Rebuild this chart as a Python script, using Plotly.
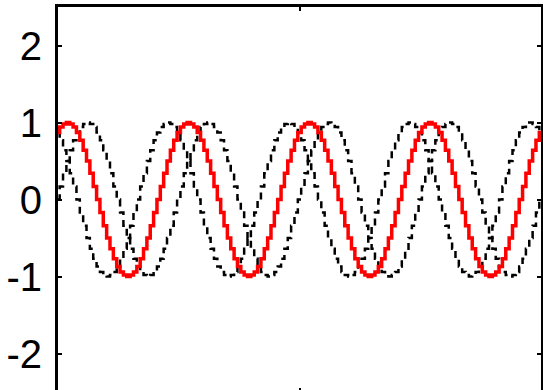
import plotly.graph_objects as go

# sample index (36 samples per cycle, 4 cycles)
sample = list(range(145))

red_wave = [
    0.87, 0.94, 0.98, 1, 0.98, 0.94, 0.87, 0.77, 0.64, 0.5, 0.34, 0.17, 0, -0.17, -0.34, -0.5, -0.64, -0.77, -0.87, -0.94, -0.98, -1, -0.98, -0.94, -0.87, -0.77, -0.64, -0.5, -0.34, -0.17, 0, 0.17, 0.34, 0.5, 0.64, 0.77,
    0.87, 0.94, 0.98, 1, 0.98, 0.94, 0.87, 0.77, 0.64, 0.5, 0.34, 0.17, 0, -0.17, -0.34, -0.5, -0.64, -0.77, -0.87, -0.94, -0.98, -1, -0.98, -0.94, -0.87, -0.77, -0.64, -0.5, -0.34, -0.17, 0, 0.17, 0.34, 0.5, 0.64, 0.77,
    0.87, 0.94, 0.98, 1, 0.98, 0.94, 0.87, 0.77, 0.64, 0.5, 0.34, 0.17, 0, -0.17, -0.34, -0.5, -0.64, -0.77, -0.87, -0.94, -0.98, -1, -0.98, -0.94, -0.87, -0.77, -0.64, -0.5, -0.34, -0.17, 0, 0.17, 0.34, 0.5, 0.64, 0.77,
    0.87, 0.94, 0.98, 1, 0.98, 0.94, 0.87, 0.77, 0.64, 0.5, 0.34, 0.17, 0, -0.17, -0.34, -0.5, -0.64, -0.77, -0.87, -0.94, -0.98, -1, -0.98, -0.94, -0.87, -0.77, -0.64, -0.5, -0.34, -0.17, 0, 0.17, 0.34, 0.5, 0.64, 0.77,
    0.87,
]

lead_wave = [
    0.87, 0.77, 0.64, 0.5, 0.34, 0.17, 0, -0.17, -0.34, -0.5, -0.64, -0.77, -0.87, -0.94, -0.98, -1, -0.98, -0.94, -0.87, -0.77, -0.64, -0.5, -0.34, -0.17, 0, 0.17, 0.34, 0.5, 0.64, 0.77, 0.87, 0.94, 0.98, 1, 0.98, 0.94,
    0.87, 0.77, 0.64, 0.5, 0.34, 0.17, 0, -0.17, -0.34, -0.5, -0.64, -0.77, -0.87, -0.94, -0.98, -1, -0.98, -0.94, -0.87, -0.77, -0.64, -0.5, -0.34, -0.17, 0, 0.17, 0.34, 0.5, 0.64, 0.77, 0.87, 0.94, 0.98, 1, 0.98, 0.94,
    0.87, 0.77, 0.64, 0.5, 0.34, 0.17, 0, -0.17, -0.34, -0.5, -0.64, -0.77, -0.87, -0.94, -0.98, -1, -0.98, -0.94, -0.87, -0.77, -0.64, -0.5, -0.34, -0.17, 0, 0.17, 0.34, 0.5, 0.64, 0.77, 0.87, 0.94, 0.98, 1, 0.98, 0.94,
    0.87, 0.77, 0.64, 0.5, 0.34, 0.17, 0, -0.17, -0.34, -0.5, -0.64, -0.77, -0.87, -0.94, -0.98, -1, -0.98, -0.94, -0.87, -0.77, -0.64, -0.5, -0.34, -0.17, 0, 0.17, 0.34, 0.5, 0.64, 0.77, 0.87, 0.94, 0.98, 1, 0.98, 0.94,
    0.87,
]

lag_wave = [
    0, 0.17, 0.34, 0.5, 0.64, 0.77, 0.87, 0.94, 0.98, 1, 0.98, 0.94, 0.87, 0.77, 0.64, 0.5, 0.34, 0.17, 0, -0.17, -0.34, -0.5, -0.64, -0.77, -0.87, -0.94, -0.98, -1, -0.98, -0.94, -0.87, -0.77, -0.64, -0.5, -0.34, -0.17,
    0, 0.17, 0.34, 0.5, 0.64, 0.77, 0.87, 0.94, 0.98, 1, 0.98, 0.94, 0.87, 0.77, 0.64, 0.5, 0.34, 0.17, 0, -0.17, -0.34, -0.5, -0.64, -0.77, -0.87, -0.94, -0.98, -1, -0.98, -0.94, -0.87, -0.77, -0.64, -0.5, -0.34, -0.17,
    0, 0.17, 0.34, 0.5, 0.64, 0.77, 0.87, 0.94, 0.98, 1, 0.98, 0.94, 0.87, 0.77, 0.64, 0.5, 0.34, 0.17, 0, -0.17, -0.34, -0.5, -0.64, -0.77, -0.87, -0.94, -0.98, -1, -0.98, -0.94, -0.87, -0.77, -0.64, -0.5, -0.34, -0.17,
    0, 0.17, 0.34, 0.5, 0.64, 0.77, 0.87, 0.94, 0.98, 1, 0.98, 0.94, 0.87, 0.77, 0.64, 0.5, 0.34, 0.17, 0, -0.17, -0.34, -0.5, -0.64, -0.77, -0.87, -0.94, -0.98, -1, -0.98, -0.94, -0.87, -0.77, -0.64, -0.5, -0.34, -0.17,
    0,
]

x_ticks = [0, 72, 144]
y_ticks = [-2, -1, 0, 1, 2]
y_labels = ["-2", "-1", "0", "1", "2"]

fig = go.Figure()
for w in (lead_wave, lag_wave):
    fig.add_trace(go.Scatter(x=sample, y=w, mode="lines", line_shape="hvh",
                             line=dict(color="black", width=2.5, dash="7px,5px")))
fig.add_trace(go.Scatter(x=sample, y=red_wave, mode="lines", line_shape="hvh",
                         line=dict(color="#ff0000", width=3.5)))

fig.update_layout(
    width=546, height=394,
    margin=dict(l=58, r=2, t=7, b=2),
    paper_bgcolor="white", plot_bgcolor="white",
    showlegend=False,
    font=dict(family="Liberation Sans, Arial", size=40, color="black"),
)
fig.update_xaxes(range=[0, 144], tickvals=x_ticks, showticklabels=False,
                 ticks="inside", ticklen=4, tickwidth=2, tickcolor="black",
                 showline=True, linecolor="black", linewidth=3, mirror="ticks",
                 showgrid=False, zeroline=False)
fig.update_yaxes(range=[-2.5, 2.5], tickvals=y_ticks, ticktext=y_labels,
                 ticks="inside", ticklen=4, tickwidth=2, tickcolor="black",
                 showline=True, linecolor="black", linewidth=3, mirror="ticks",
                 showgrid=False, zeroline=False, ticklabelstandoff=5)

fig.write_html("out.html", post_script="document.body.style.overflow='hidden';document.documentElement.style.overflow='hidden';")
